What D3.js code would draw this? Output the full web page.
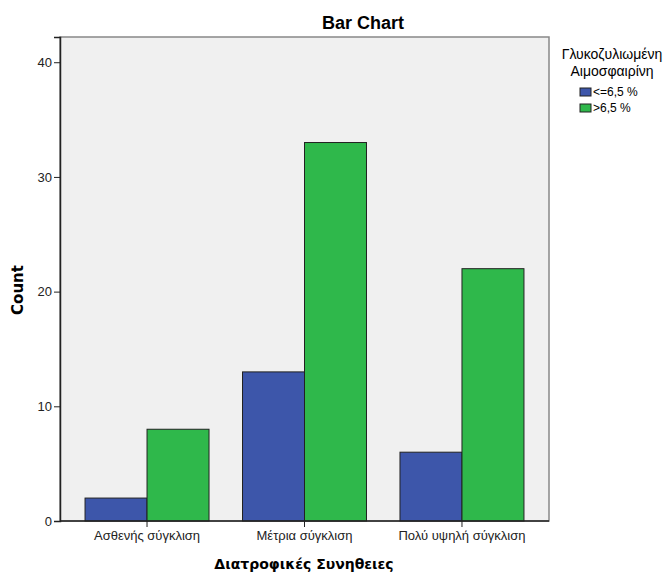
<!DOCTYPE html>
<html><head><meta charset="utf-8">
<script src="https://cdn.jsdelivr.net/npm/d3@7"></script>
<style>body{margin:0;background:#fff}text{font-family:Arial,"Liberation Sans",sans-serif}</style>
</head><body>
<svg id="c" width="667" height="574"></svg>
<script>
const categories = ["Ασθενής σύγκλιση", "Μέτρια σύγκλιση", "Πολύ υψηλή σύγκλιση"];
const seriesNames = ["<=6,5 %", ">6,5 %"];
const lowValues = [2, 13, 6];
const highValues = [8, 33, 22];
const yTicks = [0, 10, 20, 30, 40];
const colors = ["#3d56aa", "#2fb84b"];

const svg = d3.select("#c");
const L = 60, R = 549, T = 37, B = 521;

const x0 = d3.scaleBand().domain(categories).range([L, R]).paddingInner(0.2127).paddingOuter(0.159);
const x1 = d3.scaleBand().domain(seriesNames).range([0, x0.bandwidth()]);
const y = d3.scaleLinear().domain([0, 42.2]).range([B, T]);

svg.append("rect").attr("x", L).attr("y", T).attr("width", R - L).attr("height", B - T)
  .attr("fill", "#f0f0f0").attr("stroke", "#888").attr("stroke-width", 1.5);

const data = categories.map((c, i) => ({cat: c, vals: [lowValues[i], highValues[i]]}));
const g = svg.append("g");
data.forEach(d => {
  d.vals.forEach((v, j) => {
    g.append("rect")
      .attr("x", x0(d.cat) + x1(seriesNames[j]))
      .attr("y", y(v))
      .attr("width", x1.bandwidth())
      .attr("height", y(0) - y(v))
      .attr("fill", colors[j])
      .attr("stroke", "#222").attr("stroke-width", 1);
  });
});

const ya = svg.append("g").attr("transform", `translate(${L},0)`)
  .call(d3.axisLeft(y).tickValues(yTicks).tickSize(6).tickPadding(2));
ya.select(".domain").attr("stroke", "#222").attr("stroke-width", 1.5);
ya.selectAll(".tick line").attr("stroke", "#222");
ya.selectAll(".tick text").attr("font-size", 13).attr("fill", "#222").attr("font-family", "Arial, Liberation Sans");

const xa = svg.append("g").attr("transform", `translate(0,${B})`)
  .call(d3.axisBottom(x0).tickSize(6).tickPadding(4));
xa.select(".domain").attr("stroke", "#222").attr("stroke-width", 1.5).attr("d", `M${L},0H${R}`);
xa.selectAll(".tick line").attr("stroke", "#222");
xa.selectAll(".tick text").attr("font-size", 13).attr("fill", "#222").attr("font-family", "Arial, Liberation Sans");

svg.append("text").attr("x", 363).attr("y", 29).attr("text-anchor", "middle")
  .attr("font-size", 18).attr("font-weight", "bold").text("Bar Chart");
svg.append("text").attr("transform", "translate(23,290) rotate(-90)").attr("text-anchor", "middle")
  .attr("font-size", 15).attr("font-weight", "bold").style("font-family", "DejaVu Sans").text("Count");
svg.append("text").attr("x", 304).attr("y", 569).attr("text-anchor", "middle")
  .attr("font-size", 14).attr("font-weight", "bold").style("font-family", "DejaVu Sans").text("Διατροφικές Συνηθειες");

svg.append("text").attr("x", 612).attr("y", 59).attr("text-anchor", "middle").attr("font-size", 14).text("Γλυκοζυλιωμένη");
svg.append("text").attr("x", 612).attr("y", 76).attr("text-anchor", "middle").attr("font-size", 14).text("Αιμοσφαιρίνη");
seriesNames.forEach((s, j) => {
  svg.append("rect").attr("x", 580).attr("y", 88 + j * 16).attr("width", 11).attr("height", 8)
    .attr("fill", colors[j]).attr("stroke", "#222");
  svg.append("text").attr("x", 593).attr("y", 96 + j * 16).attr("font-size", 12).text(s);
});
</script>
</body></html>
